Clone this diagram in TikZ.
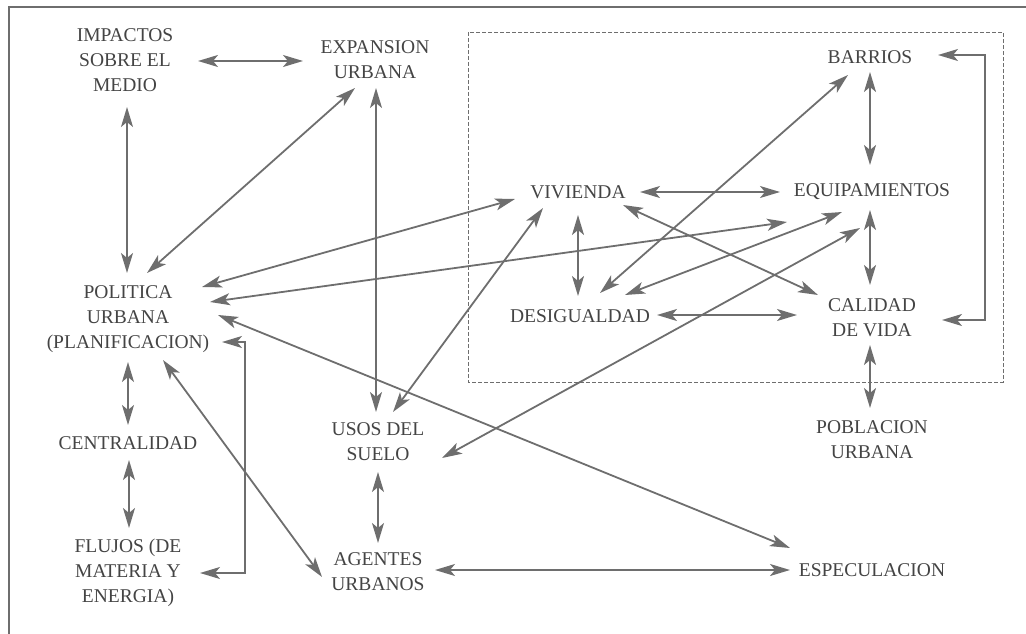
\documentclass[tikz,border=0pt]{standalone}
\usepackage{fontspec}
\setmainfont{Liberation Serif}
\usepackage{tikz}
\usetikzlibrary{arrows.meta}
\definecolor{inkgray}{HTML}{444444}
\definecolor{linegray}{HTML}{6E6E6E}
\tikzset{>={Stealth[length=20pt,width=12pt,inset=5pt]}}
\tikzset{concept/.style = {align=center, inner sep=0pt, text=inkgray, font=\fontsize{19.5}{25}\selectfont}}
\tikzset{link/.style = {<->, line width=1.8pt, draw=linegray}}

\begin{document}
\begin{tikzpicture}[x=1pt,y=-1pt]
                \useasboundingbox (0,0) rectangle (1026,634);
                % marco y recuadro
                \draw[line width=1.6pt, linegray] (9,634) -- (9,7) -- (1026,7);
                \draw[linegray, line width=0.8pt, dash pattern=on 4pt off 2pt] (468,32) rectangle (1003,382);

                \node[concept] (impactos) at (125,60) {IMPACTOS\\SOBRE EL\\MEDIO};
                \node[concept] (expansion) at (375,60) {EXPANSION\\URBANA};
                \node[concept] (politica) at (128,319) {POLITICA\\URBANA\\(PLANIFICACION)};
                \node[concept] (centralidad) at (128,443) {CENTRALIDAD};
                \node[concept] (flujos) at (128,573) {FLUJOS (DE\\MATERIA Y\\ENERGIA)};
                \node[concept] (usos) at (378,442) {USOS DEL\\SUELO};
                \node[concept] (agentes) at (378,572) {AGENTES\\URBANOS};
                \node[concept] (vivienda) at (578,192) {VIVIENDA};
                \node[concept] (equip) at (872,192) {EQUIPAMIENTOS};
                \node[concept] (barrios) at (870,57) {BARRIOS};
                \node[concept] (desig) at (580,316) {DESIGUALDAD};
                \node[concept] (calidad) at (872,318) {CALIDAD\\DE VIDA};
                \node[concept] (poblacion) at (872,440) {POBLACION\\URBANA};
                \node[concept] (especul) at (872,570) {ESPECULACION};

                % relaciones
                \draw[link] ([shift={(73,1)}]impactos.center) -- ([shift={(-72,1)}]expansion.center);
                \draw[link] ([shift={(2,47)}]impactos.center) -- ([shift={(-1,-46)}]politica.center);
                \draw[link] ([shift={(-20,28)}]expansion.center) -- ([shift={(19,-46)}]politica.center);
                \draw[link] ([shift={(1,28)}]expansion.center) -- ([shift={(-2,-30)}]usos.center);
                \draw[link] ([shift={(74,-32)}]politica.center) -- ([shift={(-63,7)}]vivienda.center);
                \draw[link] ([shift={(82,-17)}]politica.center) -- ([shift={(-85,30)}]equip.center);
                \draw[link] ([shift={(90,-4)}]politica.center) -- ([shift={(-82,-22)}]especul.center);
                \draw[link] ([shift={(94,23)}]politica.center) -- ++(23,0) |- ([shift={(72,0)}]flujos.center);
                \draw[link] ([shift={(35,41)}]politica.center) -- ([shift={(-56,5)}]agentes.center);
                \draw[link] ([shift={(0,43)}]politica.center) -- ([shift={(0,-18)}]centralidad.center);
                \draw[link] ([shift={(1,17)}]centralidad.center) -- ([shift={(1,-45)}]flujos.center);
                \draw[link] ([shift={(0,30)}]usos.center) -- ([shift={(0,-29)}]agentes.center);
                \draw[link] ([shift={(57,-2)}]agentes.center) -- ([shift={(-82,0)}]especul.center);
                \draw[link] ([shift={(15,-30)}]usos.center) -- ([shift={(-35,16)}]vivienda.center);
                \draw[link] ([shift={(64,16)}]usos.center) -- ([shift={(-12,36)}]equip.center);

                \draw[link] ([shift={(62,0)}]vivienda.center) -- ([shift={(-92,0)}]equip.center);
                \draw[link] ([shift={(0,23)}]vivienda.center) -- ([shift={(-2,-20)}]desig.center);
                \draw[link] ([shift={(45,13)}]vivienda.center) -- ([shift={(-54,-23)}]calidad.center);
                \draw[link] ([shift={(20,-23)}]desig.center) -- ([shift={(-22,18)}]barrios.center);
                \draw[link] ([shift={(45,-21)}]desig.center) -- ([shift={(-30,20)}]equip.center);
                \draw[link] ([shift={(77,-1)}]desig.center) -- ([shift={(-75,-3)}]calidad.center);
                \draw[link] ([shift={(0,15)}]barrios.center) -- ([shift={(-2,-27)}]equip.center);
                \draw[link] ([shift={(-2,18)}]equip.center) -- ([shift={(-2,-33)}]calidad.center);
                \draw[link] ([shift={(68,-2)}]barrios.center) -- ++(47,0) |- ([shift={(70,2)}]calidad.center);
                \draw[link] ([shift={(-2,27)}]calidad.center) -- ([shift={(-2,-32)}]poblacion.center);
            \end{tikzpicture}
\end{document}
